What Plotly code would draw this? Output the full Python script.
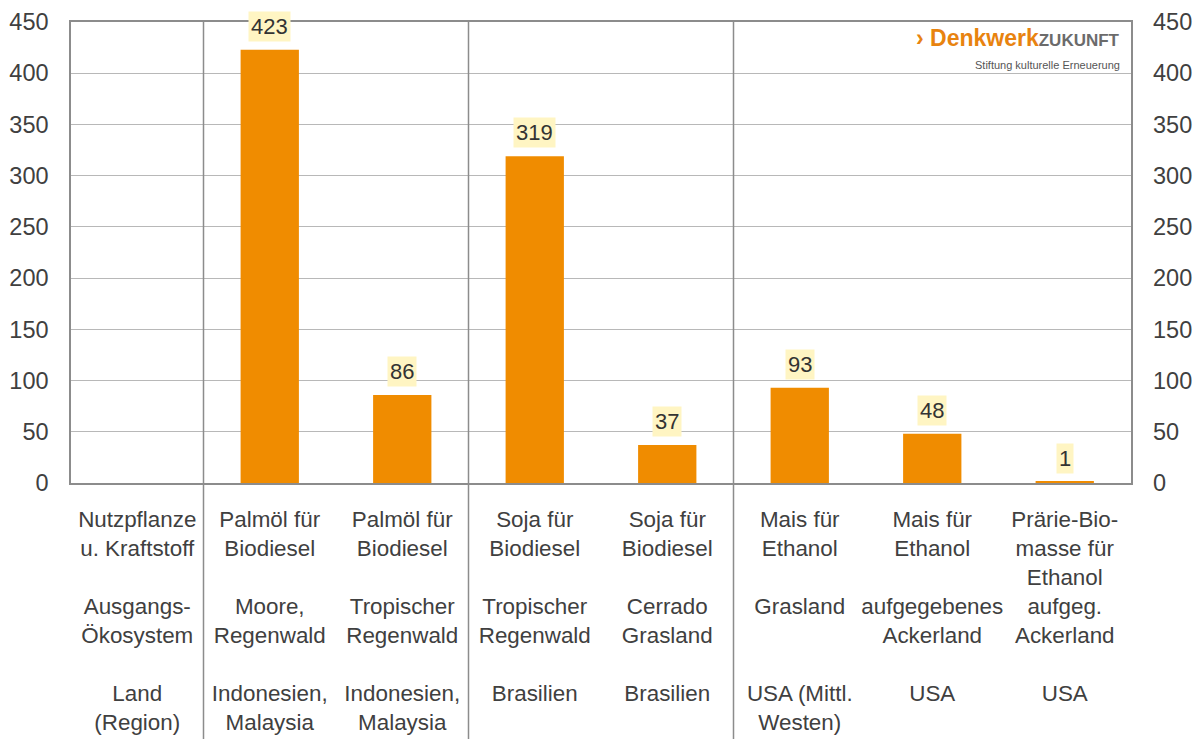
import plotly.graph_objects as go

# ---- data ----
crops = [
    "Nutzpflanze<br>u. Kraftstoff",
    "Palmöl für<br>Biodiesel",
    "Palmöl für<br>Biodiesel",
    "Soja für<br>Biodiesel",
    "Soja für<br>Biodiesel",
    "Mais für<br>Ethanol",
    "Mais für<br>Ethanol",
    "Prärie-Bio-<br>masse für<br>Ethanol",
]
ecosystems = [
    "Ausgangs-<br>Ökosystem",
    "Moore,<br>Regenwald",
    "Tropischer<br>Regenwald",
    "Tropischer<br>Regenwald",
    "Cerrado<br>Grasland",
    "Grasland",
    "aufgegebenes<br>Ackerland",
    "aufgeg.<br>Ackerland",
]
regions = [
    "Land<br>(Region)",
    "Indonesien,<br>Malaysia",
    "Indonesien,<br>Malaysia",
    "Brasilien",
    "Brasilien",
    "USA (Mittl.<br>Westen)",
    "USA",
    "USA",
]
values = [None, 423, 86, 319, 37, 93, 48, 1]
group_breaks_after = [0, 2, 4]
y_ticks = [0, 50, 100, 150, 200, 250, 300, 350, 400, 450]

FONT = "Liberation Sans, Arial, sans-serif"
TXT = "#404040"


def pad(s, n):
    lines = s.split("<br>")
    lines += [" "] * (n - len(lines))
    return lines


labels = []
for c, e, r in zip(crops, ecosystems, regions):
    lines = pad(c, 3) + pad(e, 3) + pad(r, 2)
    labels.append("<br>".join(lines))

fig = go.Figure()
fig.add_trace(go.Bar(
    x=labels, y=values, width=0.44,
    marker=dict(color="#F08C00", line=dict(width=0)),
    hoverinfo="skip", showlegend=False,
))
fig.add_trace(go.Scatter(
    x=labels, y=[v if v is not None else 0 for v in values],
    mode="markers", marker=dict(opacity=0), yaxis="y2",
    hoverinfo="skip", showlegend=False,
))

for lab, v in zip(labels, values):
    if v is None:
        continue
    fig.add_annotation(
        x=lab, y=v, text=str(v), showarrow=False, yanchor="bottom", yshift=8,
        bgcolor="#FFF5C3", borderpad=2,
        font=dict(family=FONT, size=22, color="#333333"),
    )

for i in group_breaks_after:
    fig.add_shape(type="line", xref="x", yref="paper", x0=i + 0.5, x1=i + 0.5,
                  y0=-0.6, y1=1, line=dict(color="#8C8C8C", width=1.5), layer="above")

# logo
fig.add_annotation(
    xref="paper", yref="paper", x=0.9915, y=0.965, xanchor="right", yanchor="middle",
    showarrow=False,
    text="<b>› Denkwerk</b><b><span style='color:#6b6b6b;font-size:17px'>ZUKUNFT</span></b>",
    font=dict(family=FONT, size=23, color="#E8830F"),
)
fig.add_annotation(
    xref="paper", yref="paper", x=0.9915, y=0.906, xanchor="right", yanchor="middle",
    showarrow=False, text="Stiftung kulturelle Erneuerung",
    font=dict(family=FONT, size=11, color="#555555"),
)

fig.update_layout(
    width=1204, height=739,
    margin=dict(l=71, r=73, t=22, b=256, autoexpand=False),
    paper_bgcolor="white", plot_bgcolor="white",
    font=dict(family=FONT, color=TXT),
    xaxis=dict(
        type="category", showline=True, mirror=True, linecolor="#8C8C8C", linewidth=1.5,
        showgrid=False, ticks="", tickfont=dict(size=22.4, color=TXT),
        ticklabelstandoff=15, fixedrange=True, automargin=False,
    ),
    yaxis=dict(
        range=[0, 450], tickvals=y_ticks, showline=True, mirror=True,
        linecolor="#8C8C8C", linewidth=1.5, gridcolor="#B8B8B8", gridwidth=1,
        zeroline=False, ticks="", tickfont=dict(size=23.5, color=TXT),
        ticklabelstandoff=16, automargin=False,
    ),
    yaxis2=dict(
        range=[0, 450], tickvals=y_ticks, overlaying="y", side="right",
        showgrid=False, showline=False, zeroline=False, ticks="",
        tickfont=dict(size=23.5, color=TXT), ticklabelstandoff=21, automargin=False,
    ),
)

fig.write_html("out.html")
